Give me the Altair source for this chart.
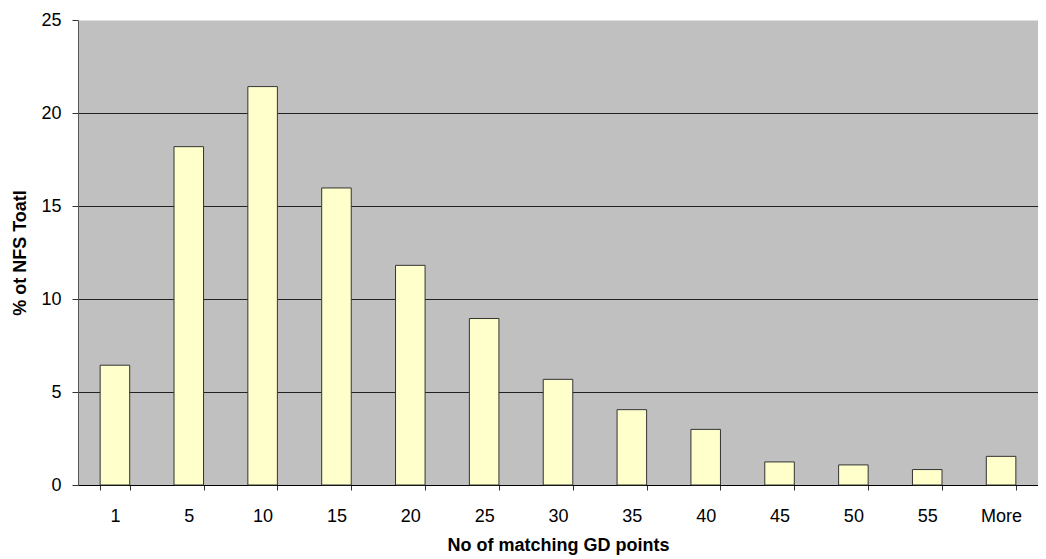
import altair as alt
import pandas as pd

categories = ["1", "5", "10", "15", "20", "25", "30", "35", "40", "45", "50", "55", "More"]
values = [6.44, 18.19, 21.42, 15.97, 11.81, 8.95, 5.68, 4.05, 2.99, 1.24, 1.08, 0.83, 1.54]
y_ticks = [0, 5, 10, 15, 20, 25]

df = pd.DataFrame({"bin": categories, "pct": values})

FONT = "Liberation Sans"

chart = (
    alt.Chart(df)
    .mark_bar(fill="#ffffcc", stroke="#333333", strokeWidth=1)
    .encode(
        x=alt.X(
            "bin:N",
            sort=categories,
            title="No of matching GD points",
            scale=alt.Scale(paddingInner=0.6, paddingOuter=0.3),
            axis=alt.Axis(
                labelAngle=0,
                tickBand="extent",
                tickSize=5,
                tickColor="#333333",
                domainColor="#000000",
                labelPadding=17,
                labelFontSize=18,
                labelFont=FONT,
                labelColor="#000000",
                titleFont=FONT,
                titleFontSize=18,
                titleFontWeight="bold",
                titleColor="#000000",
                titlePadding=11,
            ),
        ),
        y=alt.Y(
            "pct:Q",
            title="% ot NFS Toatl",
            scale=alt.Scale(domain=[0, 25], nice=False),
            axis=alt.Axis(
                values=y_ticks,
                grid=True,
                gridColor="#222222",
                gridOpacity=alt.condition("datum.value >= 25", alt.value(0), alt.value(1)),
                tickSize=6,
                tickColor="#333333",
                domainColor="#555555",
                labelPadding=11,
                labelFontSize=18,
                labelFont=FONT,
                labelColor="#000000",
                titleFont=FONT,
                titleFontSize=18,
                titleFontWeight="bold",
                titleColor="#000000",
                titlePadding=11,
            ),
        ),
    )
    .properties(
        width=960,
        height=465,
        padding={"left": 70, "top": 12, "right": 0, "bottom": 71},
        autosize=alt.AutoSizeParams(type="none"),
    )
    .configure_view(fill="#c0c0c0", stroke="transparent")
)

chart.save("out.html", embed_options={"renderer": "svg", "actions": False})
